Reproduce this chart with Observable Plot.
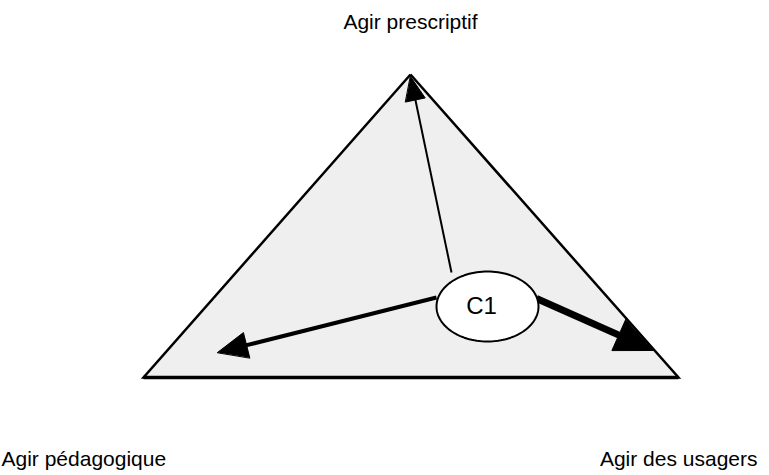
<!DOCTYPE html>
<html>
<head>
<meta charset="utf-8">
<script src="https://cdn.jsdelivr.net/npm/d3@7"></script>
<script src="https://cdn.jsdelivr.net/npm/@observablehq/plot@0.6"></script>
<style>
  html, body { margin: 0; padding: 0; background: #fff; }
  svg { display: block; }
</style>
</head>
<body>
<div id="chart"></div>
<script>
// Diagram coordinates (drawing space 0..769 × 0..475, y downward)
const vertexNames = ["Agir prescriptif", "Agir pédagogique", "Agir des usagers"];
const vertexX = [410, 143, 678];
const vertexY = [74, 377, 377];

const labelX = [410, 1, 757];
const labelY = [28, 465, 465];
const labelAnchor = ["middle", "start", "end"];

const centerName = "C1";
const centerX = 487;
const centerY = 306;
const centerRx = 51;
const centerRy = 35;

// arrows: from ellipse edge to tip
const arrowFromX = [451, 436, 536];
const arrowFromY = [272, 297, 298];
const arrowTipX = [410, 217, 653];
const arrowTipY = [76, 352, 350];
const arrowWidth = [2, 4, 7];
const arrowHeadLen = [24, 30, 38];
const arrowHeadHalf = [10, 13, 17];

// build tables
const triangle = [0, 1, 2, 0].map(i => ({x: vertexX[i], y: vertexY[i]}));
const base = [1, 2].map(i => ({x: vertexX[i], y: vertexY[i]}));
const labels = vertexNames.map((name, i) => ({name, x: labelX[i], y: labelY[i], anchor: labelAnchor[i]}));

const shafts = [];
const heads = [];
arrowTipX.forEach((tx, i) => {
  const fx = arrowFromX[i], fy = arrowFromY[i], ty = arrowTipY[i];
  const L = Math.hypot(tx - fx, ty - fy);
  const dx = (tx - fx) / L, dy = (ty - fy) / L;
  const bx = tx - dx * arrowHeadLen[i], by = ty - dy * arrowHeadLen[i];
  const nx = -dy, ny = dx, h = arrowHeadHalf[i];
  shafts.push({id: i, x: fx, y: fy});
  shafts.push({id: i, x: bx + dx * 2, y: by + dy * 2});
  heads.push({id: i, x: tx, y: ty});
  heads.push({id: i, x: bx + nx * h, y: by + ny * h});
  heads.push({id: i, x: bx - nx * h, y: by - ny * h});
});

const ellipse = d3.range(0, 121).map(k => {
  const t = (k / 120) * 2 * Math.PI;
  return {x: centerX + centerRx * Math.cos(t), y: centerY + centerRy * Math.sin(t)};
});

const font = "Liberation Sans, Arial, Helvetica, sans-serif";

const chart = Plot.plot({
  width: 769,
  height: 475,
  margin: 0,
  style: {background: "#fff", fontFamily: font},
  x: {domain: [0, 769], range: [0, 769], axis: null},
  y: {domain: [0, 475], range: [0, 475], axis: null},
  marks: [
    Plot.line(triangle, {x: "x", y: "y", fill: "#efefef", stroke: "#000", strokeWidth: 2.5,
      strokeLinejoin: "miter", strokeMiterlimit: 10, strokeLinecap: "butt"}),
    Plot.line(base, {x: "x", y: "y", stroke: "#000", strokeWidth: 3.5, strokeLinecap: "butt"}),
    ...[0, 1, 2].map(i => Plot.line(shafts.filter(d => d.id === i), {x: "x", y: "y", stroke: "#000",
      strokeWidth: arrowWidth[i], strokeLinecap: "butt"})),
    Plot.line(heads, {x: "x", y: "y", z: "id", fill: "#000", stroke: "#000", strokeWidth: 1,
      strokeLinejoin: "miter", strokeMiterlimit: 10, curve: "linear-closed"}),
    Plot.line(ellipse, {x: "x", y: "y", fill: "#fff", stroke: "#000", strokeWidth: 2, curve: "linear-closed"}),
    Plot.text([{name: centerName, x: centerX - 6, y: centerY}], {x: "x", y: "y", text: "name",
      fontSize: 24, fill: "#000", lineAnchor: "middle", fontFamily: font}),
    ...labels.map(l => Plot.text([l], {x: "x", y: "y", text: "name", textAnchor: l.anchor, fontSize: 21,
      fill: "#000", lineAnchor: "bottom", fontFamily: font}))
  ]
});
document.getElementById("chart").append(chart);
</script>
</body>
</html>
